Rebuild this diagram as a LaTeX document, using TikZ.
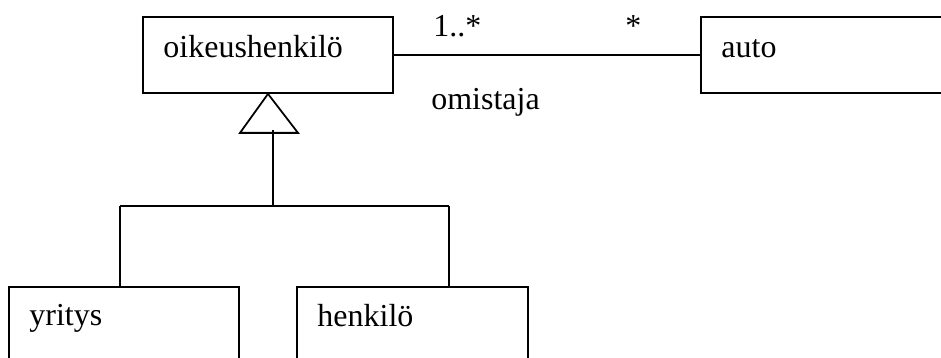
\documentclass[tikz,border=0pt]{standalone}
\usepackage{fontspec}
\setmainfont{Liberation Serif}
\usepackage{tikz}
\usetikzlibrary{positioning}

\begin{document}
\begin{tikzpicture}[x=0.02cm,y=-0.02cm,
  classbox/.style={draw,line width=1pt,minimum width=#1*0.02cm,minimum height=76*0.02cm,inner sep=0pt},
  classname/.style={anchor=base west,inner sep=0pt},
  txt/.style={anchor=base west,inner sep=0pt},
  every node/.append style={font=\fontsize{18.2}{21}\selectfont}]
  \useasboundingbox (0,0) rectangle (941,358);
  \clip (0,0) rectangle (941,358);
  \node[classbox=250] (oik) at (268,55) {};
  \node[classbox=260] (auto) at (831,55) {};
  \node[classbox=230] (yritys) at (124,325) {};
  \node[classbox=231] (henkilo) at (412.5,325) {};
  \node[classname] at ([shift={(21,41)}]oik.north west) {oikeushenkilö};
  \node[classname] at ([shift={(21,41)}]auto.north west) {auto};
  \node[classname] at ([shift={(21,39)}]yritys.north west) {yritys};
  \node[classname] at ([shift={(21,40)}]henkilo.north west) {henkilö};
  \draw[line width=0.7pt] (oik.east) -- (auto.west);
  \node[txt] (mult1) at (433,37) {1..*};
  \node[txt] (mult2) at (625,37) {*};
  \node[txt] (role) at (431,110) {omistaja};
  \draw[line width=1pt] (oik.south) -- ++(-28,39) -- ++(58,0) -- cycle;
  \coordinate (gen) at (273,130);
  \coordinate (fork) at (273,206);
  \coordinate (forkL) at (120,206);
  \coordinate (forkR) at (449,206);
  \draw[line width=1pt] (gen) -- (fork);
  \draw[line width=1pt] (forkL) -- (forkR);
  \draw[line width=1pt] (forkL) -- (forkL |- yritys.north);
  \draw[line width=1pt] (forkR) -- (forkR |- henkilo.north);
\end{tikzpicture}
\end{document}
